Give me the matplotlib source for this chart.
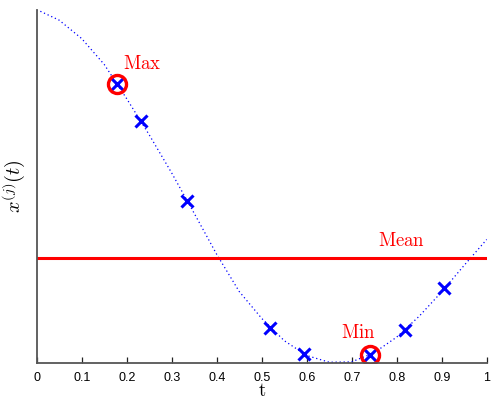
import numpy as np
import matplotlib
matplotlib.use('Agg')
import matplotlib.pyplot as plt

plt.rcParams['mathtext.fontset'] = 'cm'

# underlying path x^(j)(t), sampled on a regular grid
t_grid = [0.00, 0.05, 0.10, 0.15, 0.20, 0.25, 0.30, 0.35, 0.40, 0.45, 0.50,
          0.55, 0.60, 0.65, 0.70, 0.75, 0.80, 0.85, 0.90, 0.95, 1.00]
x_grid = [1.000, 0.970, 0.918, 0.845, 0.748, 0.646, 0.538, 0.424, 0.308, 0.203, 0.127,
          0.064, 0.022, 0.003, 0.004, 0.030, 0.074, 0.133, 0.202, 0.277, 0.350]

# observed samples along the path
t_obs = [0.179, 0.232, 0.333, 0.518, 0.593, 0.740, 0.819, 0.906]
x_obs = [0.789, 0.685, 0.459, 0.101, 0.025, 0.023, 0.095, 0.212]

tick_vals = [0, 0.1, 0.2, 0.3, 0.4, 0.5, 0.6, 0.7, 0.8, 0.9, 1]
tick_labels = ['0', '0.1', '0.2', '0.3', '0.4', '0.5', '0.6', '0.7', '0.8', '0.9', '1']

x_obs_arr = np.array(x_obs)
i_max = int(np.argmax(x_obs_arr))
i_min = int(np.argmin(x_obs_arr))
x_mean = x_obs_arr.mean()

fig = plt.figure(figsize=(4.92, 3.99), dpi=100)
ax = fig.add_axes([0.0746, 0.0895, 0.9146, 0.8865])

ax.plot(t_grid, x_grid, color='#0000ff', lw=0.9, ls=(0, (1, 2.2)))
ax.axhline(x_mean, color='#ff0000', lw=2.2)
ax.plot(t_obs, x_obs, 'x', color='#0000ff', ms=8, mew=2.2, ls='none')
ax.plot([t_obs[i_max], t_obs[i_min]], [x_obs[i_max], x_obs[i_min]], 'o',
        mfc='none', mec='#ff0000', ms=13, mew=2.4, ls='none')

ax.text(t_obs[i_max] + 0.012, x_obs[i_max] + 0.042, r'$\mathrm{Max}$',
        color='#ff0000', fontsize=13.5, ha='left', va='baseline')
ax.text(t_obs[i_min] - 0.063, x_obs[i_min] + 0.049, r'$\mathrm{Min}$',
        color='#ff0000', fontsize=13.5, ha='left', va='baseline')
ax.text(0.759, x_mean + 0.032, r'$\mathrm{Mean}$',
        color='#ff0000', fontsize=13.5, ha='left', va='baseline')

ax.set_xlim(0, 1)
ax.set_ylim(0, 1)
ax.set_xticks(tick_vals)
ax.set_xticklabels(tick_labels, fontfamily='Liberation Sans', fontsize=9)
ax.set_yticks([])
ax.tick_params(axis='x', direction='in', length=4, width=0.9, color='#222222', pad=6)

for side in ['top', 'right']:
    ax.spines[side].set_visible(False)
for side in ['left', 'bottom']:
    ax.spines[side].set_color('#555555')
    ax.spines[side].set_linewidth(1.3)

ax.set_xlabel(r'$\mathrm{t}$', fontsize=13.5, va='baseline')
ax.xaxis.set_label_coords(0.5, -0.092)
ax.set_ylabel(r'$x^{(j)}(t)$', fontsize=14.5, labelpad=6)

fig.savefig('out.png', dpi=100)
